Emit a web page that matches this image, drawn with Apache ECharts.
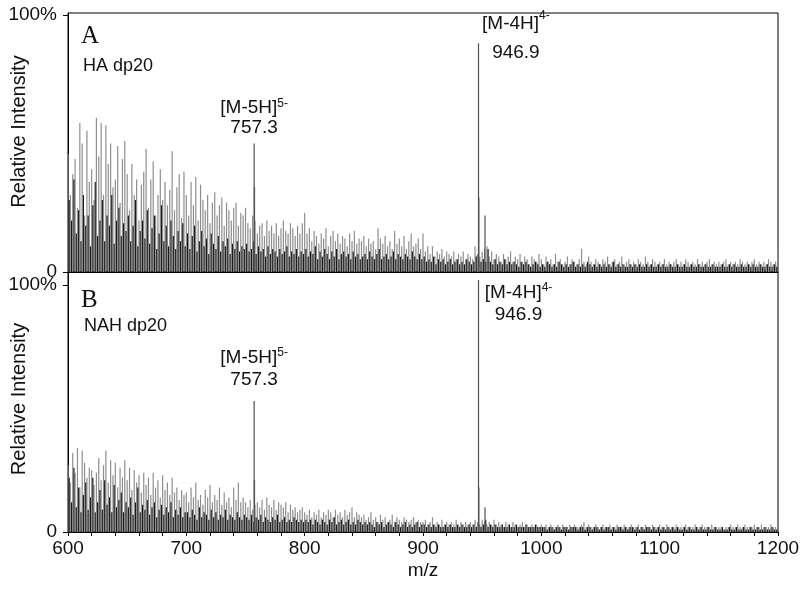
<!DOCTYPE html>
<html><head><meta charset="utf-8">
<script src="https://cdn.jsdelivr.net/npm/echarts@6/dist/echarts.min.js"></script>
<style>html,body{margin:0;padding:0;background:#fff}#c{width:800px;height:589px}</style>
</head><body><div id="c"></div>
<script>
// m/z sampling grid of the two interleaved trace series
const greyStartMz = 600, blackStartMz = 601, sampleStep = 2;

// Panel A (HA dp20) relative intensities, %
const greyA = [
 46,30,38,44,25,58,50,22,55,35,40,28,60,45,58,30,57,42,50,33,36,49,27,44,51,
 38,24,42,30,36,20,34,39,48,25,36,43,22,30,40,28,35,26,32,47,24,33,38,21,39,
 30,22,35,26,37,20,34,28,24,30,19,27,31,22,26,29,18,27,24,20,25,27,18,23,22,
 25,19,17,22,20,15,18,19,14,20,16,18,15,19,14,17,20,16,15,19,17,14,18,15,19,
 23,15,17,12,16,14,11,15,13,17,10,14,16,12,15,11,14,13,10,15,12,16,11,13,12,
 14,10,13,11,12,9,17,13,11,14,10,12,9,16,11,13,10,14,9,12,15,10,11,13,9,
 15,8,10,7,10,6,8,7,9,6,8,7,6,8,5,7,6,8,5,7,6,5,10,7,6,
 8,9,10,6,8,5,7,6,4,7,5,6,8,4,6,5,7,4,6,5,3,6,5,4,7,
 5,3,6,4,5,3,7,4,5,3,4,6,3,5,4,3,5,9,4,3,6,4,3,5,4,
 3,5,4,6,3,4,5,3,4,6,3,4,5,3,4,3,5,4,3,6,4,3,5,4,3,
 4,3,5,3,4,3,4,5,3,4,3,5,4,3,4,3,5,3,4,3,4,5,3,4,3,
 4,3,4,5,3,4,3,4,3,5,4,3,4,3,4,5,3,4,3,4,3,5,4,3,4,
 7
];
const blackA = [
 28,20,36,15,24,12,30,18,22,10,26,35,14,20,28,12,22,18,30,11,20,25,14,19,16,
 22,12,18,28,10,16,20,13,24,11,17,22,9,15,26,12,18,10,20,14,9,16,12,19,10,
 15,9,14,18,8,12,16,10,13,7,15,11,9,14,8,12,10,13,7,11,9,12,8,10,9,
 11,8,9,12,7,10,8,9,6,10,7,9,8,6,9,7,8,10,6,8,7,9,6,8,7,
 9,6,8,7,10,5,8,6,9,7,5,8,6,9,5,7,8,6,7,5,8,6,7,5,6,
 7,5,8,6,5,7,9,5,6,7,5,6,8,5,7,6,5,7,6,5,8,6,5,7,5,
 6,4,5,4,6,3,5,4,5,3,4,5,3,4,5,3,4,3,5,4,3,4,6,5,4,
 5,4,9,4,3,5,3,4,3,5,3,4,3,4,3,2,4,3,4,3,2,3,4,3,2,
 3,2,4,3,2,3,2,4,3,2,3,2,3,4,2,3,2,3,2,4,3,2,3,2,3,
 2,3,2,3,2,4,2,3,2,3,2,2,3,2,3,2,3,2,2,3,2,3,2,2,3,
 2,3,2,2,3,2,2,3,2,2,3,2,2,3,2,2,3,2,2,3,2,2,3,2,2,
 2,3,2,2,3,2,3,2,2,3,2,2,3,2,3,2,2,3,2,2,3,2,2,3,2
];
const peakMzA  = [757.3, 757.6, 946.9, 947.2, 952.4];
const peakIntA = [50, 33, 89, 29, 22];

// Panel B (NAH dp20) relative intensities, %
const greyB = [
 27,20,32,24,34,18,33,28,22,26,25,19,24,30,21,27,33,20,29,23,28,18,26,22,29,
 21,26,17,25,20,23,16,24,19,22,15,24,18,21,14,23,17,20,15,22,16,18,13,17,15,
 16,12,18,14,20,13,15,11,17,14,19,12,15,13,18,11,16,12,14,10,18,13,20,12,14,
 12,10,13,9,11,12,10,13,9,14,11,10,13,9,12,11,10,12,8,11,9,10,8,9,10,
 8,7,9,6,8,7,9,6,8,7,9,8,6,9,7,8,6,9,7,8,10,6,8,7,6,
 7,5,6,8,5,6,4,7,5,6,4,5,7,4,6,5,4,6,5,4,5,6,4,5,4,
 4,5,3,4,6,3,4,3,5,3,4,3,4,3,5,3,4,3,4,3,4,3,5,4,3,
 5,4,3,4,3,5,3,4,3,2,4,3,2,4,3,2,3,4,2,3,2,3,2,3,2,
 3,2,3,2,3,2,2,3,2,3,2,2,3,2,3,2,2,3,4,2,3,2,2,3,2,
 2,3,2,2,3,2,2,3,2,2,3,2,2,3,2,2,3,2,2,3,2,2,3,2,2,
 3,2,2,3,2,2,2,3,2,2,2,3,2,2,2,3,2,2,3,2,2,2,3,2,2,
 2,2,1,2,2,3,2,2,3,2,2,3,2,2,2,3,2,2,3,2,2,2,3,2,2,
 3
];
const blackB = [
 22,12,26,10,18,8,15,20,9,14,22,8,12,17,9,21,11,14,8,19,10,13,16,8,12,
 10,14,7,12,18,8,11,9,13,7,10,12,6,9,11,7,10,8,12,6,9,7,10,6,8,
 8,6,9,7,5,10,6,8,7,5,9,6,8,5,7,6,9,5,7,6,5,8,6,5,7,
 6,5,7,4,6,5,7,4,6,5,4,6,5,7,4,5,6,4,5,4,6,5,4,5,4,
 5,4,5,3,5,4,3,5,4,3,5,4,6,3,4,5,3,4,5,3,4,3,5,4,3,
 4,3,4,3,2,4,3,4,2,3,4,3,2,4,3,2,3,4,2,3,2,3,4,2,3,
 3,2,3,2,3,2,3,2,2,3,2,3,2,2,3,2,3,2,2,3,2,3,2,3,2,
 3,5,2,3,2,3,2,2,3,2,2,3,2,2,3,2,2,2,3,2,2,2,3,2,2,
 2,2,1,2,2,1,2,2,1,2,2,1,2,2,2,1,2,2,1,2,2,1,2,2,1,
 2,1,2,2,1,2,1,2,2,1,2,1,2,2,1,2,1,2,1,2,2,1,2,1,2,
 1,2,1,2,1,2,1,2,1,1,2,1,2,1,1,2,1,2,1,1,2,1,1,2,1,
 1,2,1,1,2,1,1,2,1,1,2,1,1,2,1,1,2,1,1,2,1,1,2,1,1
];
const peakMzB  = [757.3, 757.6, 946.9, 947.2, 952.4];
const peakIntB = [53, 21, 102, 18, 10];

// annotated ions: index in the peak arrays -> label text
const ionPeakIndex = [0, 2];
const ionNames   = ['[M-5H]', '[M-4H]'];
const ionCharges = ['5-', '4-'];
const ionMzText  = ['757.3', '946.9'];

const xTickLabels = [600, 700, 800, 900, 1000, 1100, 1200];
const panelLetters = ['A', 'B'];
const panelSamples = ['HA dp20', 'NAH dp20'];
const yAxisTitle = 'Relative Intensity';
const xAxisTitle = 'm/z';

// ---------- build option ----------
const SANS = '"Liberation Sans", Arial, sans-serif';
const SERIF = '"Liberation Serif", "Times New Roman", serif';
const TXT = '#111';

function trace(vals, start) {
  return vals.map((v, i) => [start + i * sampleStep, v]);
}

// label layout per panel per annotated ion (style only)
const labelLayouts = [
  [ {position: 'top', distance: 6, align: 'center', verticalAlign: 'bottom', lh: 20},
    {position: [38, -5], align: 'center', verticalAlign: 'middle', lh: 29} ],
  [ {position: 'top', distance: 10, align: 'center', verticalAlign: 'bottom', lh: 22},
    {position: [40.6, 24], align: 'center', verticalAlign: 'middle', lh: 22} ]
];

function peakData(mzs, ints, panel) {
  return mzs.map((m, i) => {
    const k = ionPeakIndex.indexOf(i);
    const item = {value: [m, ints[i]]};
    if (k >= 0) {
      const L = labelLayouts[panel][k];
      item.label = {
        show: true,
        position: L.position,
        distance: L.distance,
        align: L.align,
        verticalAlign: L.verticalAlign,
        formatter: '{t|' + ionNames[k] + '}{s|' + ionCharges[k] + '}\n{t|' + ionMzText[k] + '}',
        rich: {
          t: {fontFamily: SANS, fontSize: 19, color: TXT, lineHeight: L.lh},
          s: {fontFamily: SANS, fontSize: 12, color: TXT, lineHeight: 13, verticalAlign: 'top'}
        }
      };
    }
    return item;
  });
}

const barBase = {type: 'bar', barWidth: 1.2, barGap: '-100%', silent: true, animation: false};

const option = {
  animation: false,
  backgroundColor: '#fff',
  title: [
    {text: panelLetters[0], left: 81, top: 24, padding: 0, textStyle: {fontFamily: SERIF, fontSize: 25, fontWeight: 'normal', color: TXT}},
    {text: panelSamples[0], left: 83, top: 57, padding: 0, textStyle: {fontFamily: SANS, fontSize: 18, fontWeight: 'normal', color: TXT}},
    {text: panelLetters[1], left: 81, top: 288, padding: 0, textStyle: {fontFamily: SERIF, fontSize: 25, fontWeight: 'normal', color: TXT}},
    {text: panelSamples[1], left: 84, top: 317, padding: 0, textStyle: {fontFamily: SANS, fontSize: 18, fontWeight: 'normal', color: TXT}}
  ],
  grid: [
    {left: 68, right: 22, top: 13, height: 259, containLabel: false, outerBoundsMode: 'none',
     show: true, borderColor: '#000', borderWidth: 1, backgroundColor: 'transparent'},
    {left: 68, right: 22, top: 272, height: 260, containLabel: false, outerBoundsMode: 'none',
     show: true, borderColor: '#000', borderWidth: 1, backgroundColor: 'transparent'}
  ],
  xAxis: [
    {type: 'value', gridIndex: 0, min: 600, max: 1200, interval: 20,
     axisLine: {lineStyle: {color: '#000'}}, axisTick: {show: false}, axisLabel: {show: false}, splitLine: {show: false}},
    {type: 'value', gridIndex: 1, min: 600, max: 1200, interval: 20,
     name: xAxisTitle, nameLocation: 'middle', nameGap: 29, nameMoveOverlap: false,
     nameTextStyle: {fontFamily: SANS, fontSize: 19, color: TXT},
     axisLine: {lineStyle: {color: '#000'}},
     axisTick: {show: true, length: 4, lineStyle: {color: '#000'}},
     axisLabel: {customValues: xTickLabels, margin: 7, fontFamily: SANS, fontSize: 19, color: TXT,
                 formatter: v => String(v)},
     splitLine: {show: false}}
  ],
  yAxis: [0, 1].map(g => ({
    type: 'value', gridIndex: g, min: 0, max: g === 0 ? 100.8 : 105.26,
    name: yAxisTitle, nameLocation: 'middle', nameGap: 39, nameRotate: 90, nameMoveOverlap: false,
    nameTextStyle: {fontFamily: SANS, fontSize: 20, color: TXT, padding: g === 0 ? [0, 0, 0, 22] : [0, 0, 0, 6]},
    axisLine: {show: true, lineStyle: {color: '#000'}},
    axisTick: {show: true, length: 5, customValues: [0, 100], lineStyle: {color: '#000'}},
    axisLabel: {customValues: [0, 100], margin: 11, fontFamily: SANS, fontSize: 19, color: TXT,
                formatter: v => (v === 100 ? '100%' : '0')},
    splitLine: {show: false}
  })),
  series: [
    Object.assign({}, barBase, {xAxisIndex: 0, yAxisIndex: 0, data: trace(greyA, greyStartMz), itemStyle: {color: '#8e8e8e'}}),
    Object.assign({}, barBase, {xAxisIndex: 0, yAxisIndex: 0, data: trace(blackA, blackStartMz), itemStyle: {color: '#1a1a1a'}}),
    Object.assign({}, barBase, {xAxisIndex: 0, yAxisIndex: 0, data: peakData(peakMzA, peakIntA, 0), itemStyle: {color: '#505050'}}),
    Object.assign({}, barBase, {xAxisIndex: 1, yAxisIndex: 1, data: trace(greyB, greyStartMz), itemStyle: {color: '#8e8e8e'}}),
    Object.assign({}, barBase, {xAxisIndex: 1, yAxisIndex: 1, data: trace(blackB, blackStartMz), itemStyle: {color: '#1a1a1a'}}),
    Object.assign({}, barBase, {xAxisIndex: 1, yAxisIndex: 1, data: peakData(peakMzB, peakIntB, 1), itemStyle: {color: '#505050'}})
  ]
};

const chart = echarts.init(document.getElementById('c'), null, {renderer: 'canvas'});
chart.setOption(option);
</script></body></html>
